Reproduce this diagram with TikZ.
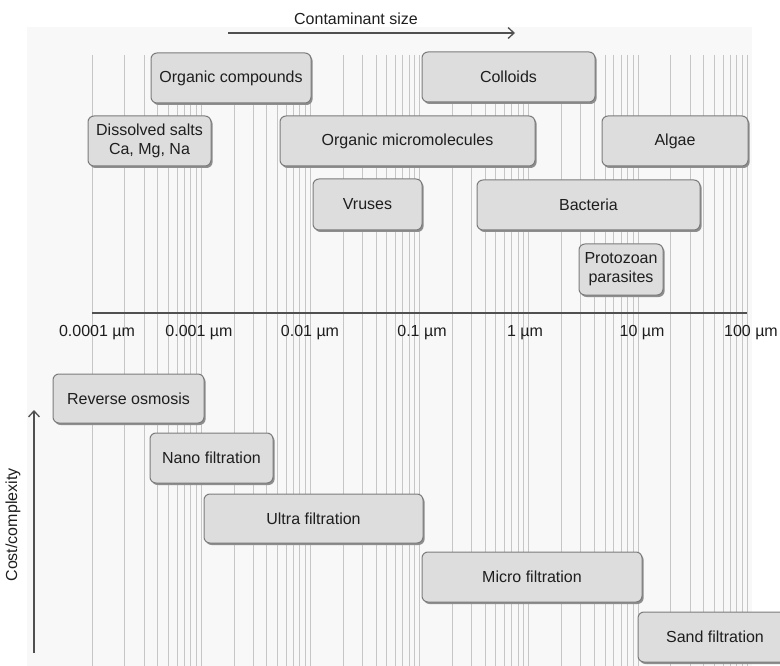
\documentclass[tikz,border=0pt]{standalone}
\usepackage{fontspec}
\setmainfont{Liberation Sans}
\usetikzlibrary{arrows.meta,shadows}
\definecolor{boxfill}{HTML}{DDDDDD}
\definecolor{boxline}{HTML}{7C7C7C}
\definecolor{shadowc}{HTML}{8E8E8E}
\definecolor{gridc}{HTML}{C6C6C6}
\definecolor{panel}{HTML}{F8F8F8}
\definecolor{txt}{HTML}{1E1E1E}
\definecolor{axisc}{HTML}{505050}
\begin{document}
\begin{tikzpicture}[x=1pt,y=-1pt,
  cbox/.style={draw=boxline, line width=1pt, fill=boxfill, rounded corners=6pt,
    drop shadow={shadow xshift=1.6pt, shadow yshift=-2pt, fill=shadowc, opacity=1},
    anchor=north west, inner sep=0pt, outer sep=0pt, align=center,
    font=\fontsize{16}{19}\selectfont, text=txt},
  gridline/.style={draw=gridc, line width=0.9pt},
  lbl/.style={font=\fontsize{16}{19}\selectfont, text=txt, inner sep=0pt},
  arr/.style={draw=axisc, line width=1.3pt, -{Straight Barb[length=6pt,width=11pt,line width=1.3pt]}},
]
\useasboundingbox (0,0) rectangle (780,666);
\clip (0,0) rectangle (780,666);
\fill[panel] (27,27) rectangle (752,666);

% grid
\foreach \d in {0,...,5}{
  \foreach \k in {1,...,9}{
    \draw[gridline] ({92+109.2*(\d+log10(\k))},55) -- ++(0,611);
  }
}
\draw[gridline] (747,55) -- ++(0,611);

% axis
\coordinate (ax1) at (92,313);
\coordinate (ax2) at (747,313);
\draw[draw=axisc, line width=2pt] (ax1) -- (ax2);

\node[lbl] (l1) at (97,333) {0.0001 µm};
\node[lbl] (l2) at (199,333) {0.001 µm};
\node[lbl] (l3) at (310,333) {0.01 µm};
\node[lbl] (l4) at (422,333) {0.1 µm};
\node[lbl] (l5) at (525,333) {1 µm};
\node[lbl] (l6) at (642,333) {10 µm};
\node[lbl] (l7) at (751,333) {100 µm};

% title arrow
\node[lbl] (title) at (356,19) {Contaminant size};
\coordinate (ta1) at (228,33);
\coordinate (ta2) at (515,33);
\draw[arr] (ta1) -- (ta2);

% cost arrow
\coordinate (ca1) at (34,653);
\coordinate (ca2) at (34,410);
\draw[arr] (ca1) -- (ca2);
\node[lbl, rotate=90] (cost) at (13,525) {Cost/complexity};

% contaminant boxes
\node[cbox, minimum width=160pt, minimum height=50pt] (orgc) at (151,53) {Organic compounds};
\node[cbox, minimum width=173pt, minimum height=50pt] (coll) at (422,52) {Colloids};
\node[cbox, minimum width=123pt, minimum height=50pt] (salts) at (88,116) {Dissolved salts\\Ca, Mg, Na};
\node[cbox, minimum width=255pt, minimum height=50pt] (orgm) at (280,116) {Organic micromolecules};
\node[cbox, minimum width=146pt, minimum height=50pt] (algae) at (602,116) {Algae};
\node[cbox, minimum width=109pt, minimum height=51pt] (vir) at (313,179) {Vruses};
\node[cbox, minimum width=223pt, minimum height=50pt] (bact) at (477,180) {Bacteria};
\node[cbox, minimum width=84pt, minimum height=51pt] (proto) at (579,244) {Protozoan\\parasites};

% filtration boxes
\node[cbox, minimum width=151pt, minimum height=49pt] (ro) at (53,374) {Reverse osmosis};
\node[cbox, minimum width=123pt, minimum height=50pt] (nano) at (150,433) {Nano filtration};
\node[cbox, minimum width=219pt, minimum height=49pt] (ultra) at (204,494) {Ultra filtration};
\node[cbox, minimum width=220pt, minimum height=50pt] (micro) at (422,552) {Micro filtration};
\node[cbox, minimum width=154pt, minimum height=50pt] (sand) at (638,612) {Sand filtration};
\end{tikzpicture}
\end{document}
